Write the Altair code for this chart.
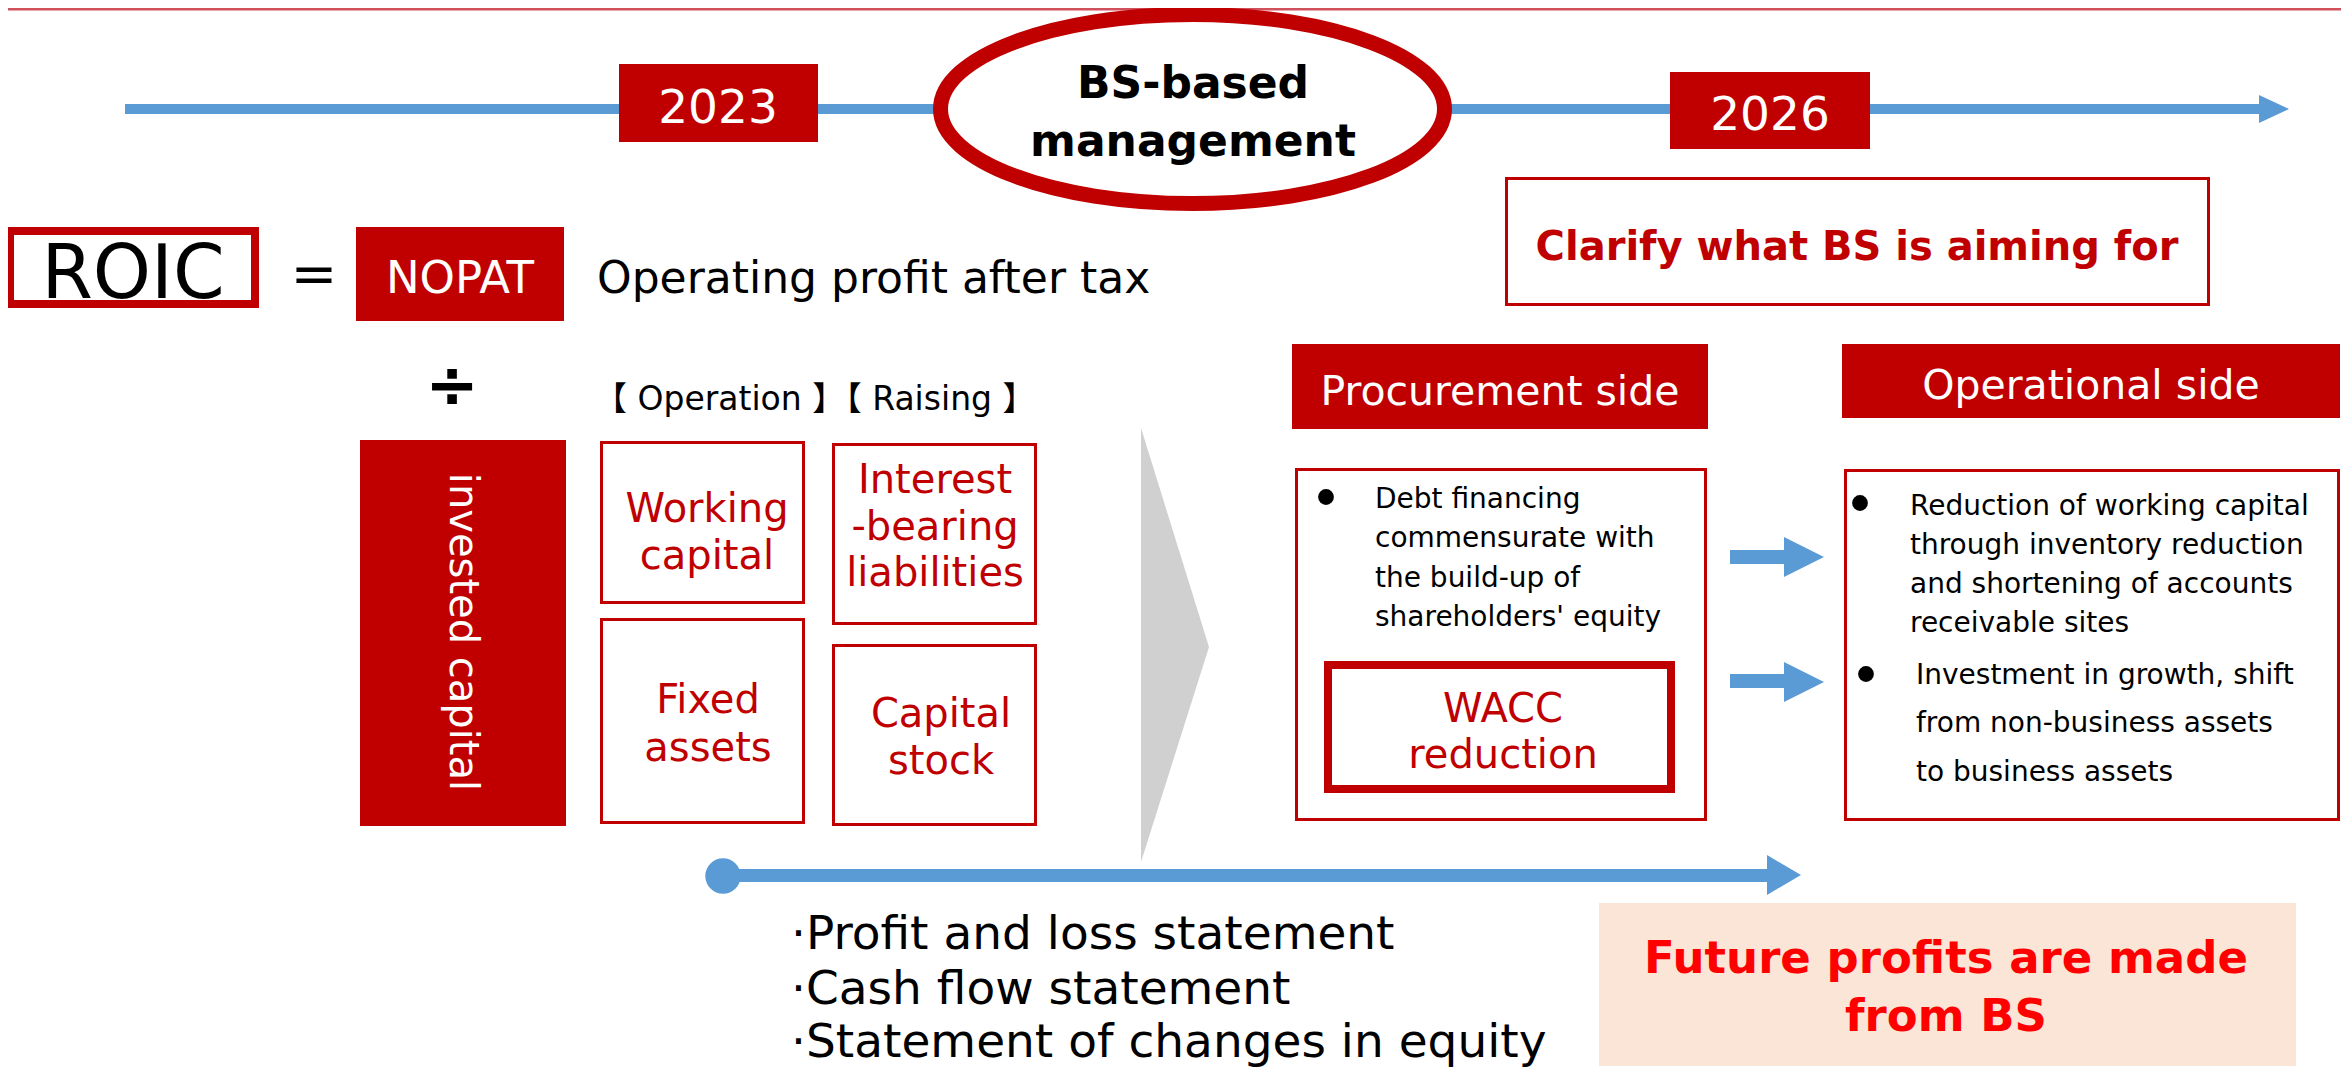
import altair as alt
import pandas as pd

# ---------------- content ----------------
RED = "#c00000"
BLUE = "#5b9bd5"
FONT = "DejaVu Sans, Noto Sans CJK JP"

years = ["2023", "2026"]
title_lines = ["BS-based", "management"]
goal_text = "Clarify what BS is aiming for"
formula = ["ROIC", "=", "NOPAT", "Operating profit after tax", "÷", "invested capital"]
bracket_text = "【 Operation 】【 Raising 】"
operation_items = [["Working", "capital"], ["Fixed", "assets"]]
raising_items = [["Interest", "-bearing", "liabilities"], ["Capital", "stock"]]
side_headers = ["Procurement side", "Operational side"]
procure_lines = ["Debt financing", "commensurate with", "the build-up of", "shareholders' equity"]
wacc_lines = ["WACC", "reduction"]
oper_lines_1 = ["Reduction of working capital", "through inventory reduction",
                "and shortening of accounts", "receivable sites"]
oper_lines_2 = ["Investment in growth, shift", "from non-business assets", "to business assets"]
statements = ["·Profit and loss statement", "·Cash flow statement", "·Statement of changes in equity"]
future_lines = ["Future profits are made", "from BS"]

# ---------------- geometry (page pixels) ----------------
xs = alt.Scale(domain=[8, 2341], nice=False, zero=False)
ys = alt.Scale(domain=[8, 1069], nice=False, zero=False, reverse=True)

rects = pd.DataFrame([
    # x, x2, y, y2, fill, stroke, sw
    (8, 2341, 8, 10.5, "#d0505c", "#d0505c", 0),
    (125, 2262, 104, 114, BLUE, BLUE, 0),
    (619, 818, 64, 142, RED, RED, 0),
    (1670, 1870, 72, 149, RED, RED, 0),
    (1506.5, 2208.5, 178.5, 304.5, "white", RED, 3),
    (10, 255, 231, 304, "white", RED, 8),
    (356, 564, 227, 321, RED, RED, 0),
    (360, 566, 440, 826, RED, RED, 0),
    (601.5, 803.5, 442.5, 602.5, "white", RED, 3),
    (833.5, 1035.5, 444.5, 623.5, "white", RED, 3),
    (601.5, 803.5, 619.5, 822.5, "white", RED, 3),
    (833.5, 1035.5, 645.5, 824.5, "white", RED, 3),
    (1292, 1708, 344, 429, RED, RED, 0),
    (1842, 2340, 344, 418, RED, RED, 0),
    (1296.5, 1705.5, 469.5, 819.5, "white", RED, 3),
    (1845.5, 2338.5, 470.5, 819.5, "white", RED, 3),
    (1328, 1671, 665, 789, "white", RED, 8),
    (1599, 2296, 903, 1066, "#fbe5d6", "#fbe5d6", 0),
    (1730, 1786, 550, 564, BLUE, BLUE, 0),
    (1730, 1786, 674, 688, BLUE, BLUE, 0),
    (724, 1768, 869, 882, BLUE, BLUE, 0),
], columns=["x", "x2", "y", "y2", "fill", "stroke", "sw"])

tri = pd.DataFrame([
    # id, x, y, y2, fill
    ("chev", 1141, 428, 862, "#d0d0d0"), ("chev", 1209, 647, 647, "#d0d0d0"),
    ("head0", 2259, 95, 123, BLUE), ("head0", 2289, 109, 109, BLUE),
    ("head1", 1784, 537, 577, BLUE), ("head1", 1824, 557, 557, BLUE),
    ("head2", 1784, 662, 702, BLUE), ("head2", 1824, 682, 682, BLUE),
    ("head3", 1767, 855, 895, BLUE), ("head3", 1801, 875, 875, BLUE),
], columns=["id", "x", "y", "y2", "fill"])

dots = pd.DataFrame([
    (723, 876, 1257, BLUE),
    (1326, 497, 250, "black"),
    (1860, 503, 250, "black"),
    (1866, 674, 250, "black"),
], columns=["x", "y", "size", "fill"])

ellipse = pd.DataFrame({"x": [1192.5], "y": [109]})
ELLIPSE_PATH = "M-1,0A1,0.375,0,1,0,1,0A1,0.375,0,1,0,-1,0Z"

# text rows: text, x, y, size, color, weight, align
T = []
def add(text, x, y, size, color="black", weight="normal", align="center"):
    T.append((text, x, y, size, color, weight, align))

add(years[0], 718, 123, 47, "white")
add(years[1], 1770, 130, 47, "white")
add(title_lines[0], 1193, 98, 44, weight="bold")
add(title_lines[1], 1193, 156, 44, weight="bold")
add(goal_text, 1857, 260, 40, RED, "bold")
add(formula[0], 133, 298, 74)
add(formula[1], 314, 293, 56)
add(formula[2], 460, 293, 45, "white")
add(formula[3], 597, 293, 44, align="left")
add(formula[4], 452, 407, 64, weight="bold")
add(bracket_text, 594, 410, 33, align="left")
for i, t in enumerate(operation_items[0]):
    add(t, 707, [522, 569][i], 40, RED)
for i, t in enumerate(operation_items[1]):
    add(t, 708, [713, 761][i], 40, RED)
for i, t in enumerate(raising_items[0]):
    add(t, 935, [493, 540, 586][i], 40, RED)
for i, t in enumerate(raising_items[1]):
    add(t, 941, [727, 774][i], 40, RED)
add(side_headers[0], 1500, 405, 41, "white")
add(side_headers[1], 2091, 399, 41, "white")
for i, t in enumerate(procure_lines):
    add(t, 1375, [508, 547, 587, 626][i], 28, align="left")
for i, t in enumerate(wacc_lines):
    add(t, 1503, [722, 768][i], 40, RED)
for i, t in enumerate(oper_lines_1):
    add(t, 1910, [515, 554, 593, 632][i], 28, align="left")
for i, t in enumerate(oper_lines_2):
    add(t, 1916, [684, 732, 781][i], 28, align="left")
for i, t in enumerate(statements):
    add(t, 791, [949, 1004, 1057][i], 47, align="left")
for i, t in enumerate(future_lines):
    add(t, 1946, [973, 1031][i], 45, "#ff0000", "bold")

texts = pd.DataFrame(T, columns=["text", "x", "y", "size", "color", "weight", "align"])
rot = pd.DataFrame([(formula[5], 462, 632, 40, "white")], columns=["text", "x", "y", "size", "color"])

X = lambda f="x": alt.X(f"{f}:Q", scale=xs, axis=None)
Y = lambda f="y": alt.Y(f"{f}:Q", scale=ys, axis=None)

rect_layer = alt.Chart(rects).mark_rect().encode(
    x=X(), x2="x2:Q", y=Y(), y2="y2:Q",
    fill=alt.Fill("fill:N", scale=None),
    stroke=alt.Stroke("stroke:N", scale=None),
    strokeWidth=alt.StrokeWidth("sw:Q", scale=None),
)

tri_layer = alt.Chart(tri).mark_area(opacity=1).encode(
    x=X(), y=Y(), y2="y2:Q",
    detail="id:N",
    fill=alt.Fill("fill:N", scale=None),
)

dot_layer = alt.Chart(dots).mark_circle(opacity=1).encode(
    x=X(), y=Y(),
    size=alt.Size("size:Q", scale=None),
    fill=alt.Fill("fill:N", scale=None),
)

ell_layer = alt.Chart(ellipse).mark_point(
    shape=ELLIPSE_PATH, size=504 * 504, filled=True, fill="white",
    stroke=RED, strokeWidth=15, opacity=1, fillOpacity=1, strokeOpacity=1,
).encode(x=X(), y=Y())

layers = [rect_layer, tri_layer, dot_layer, ell_layer]
for (w, a), sub in texts.groupby(["weight", "align"]):
    layers.append(
        alt.Chart(sub).mark_text(font=FONT, fontWeight=w, align=a, baseline="alphabetic").encode(
            x=X(), y=Y(), text="text:N",
            size=alt.Size("size:Q", scale=None),
            color=alt.Color("color:N", scale=None),
        )
    )
layers.append(
    alt.Chart(rot).mark_text(font=FONT, align="center", baseline="middle", angle=90).encode(
        x=X(), y=Y(), text="text:N",
        size=alt.Size("size:Q", scale=None),
        color=alt.Color("color:N", scale=None),
    )
)

chart = alt.layer(*layers).properties(
    width=2333, height=1061, padding=0, autosize="none", background="white"
).configure_view(stroke=None)

chart.save("out.html", embed_options={"renderer": "svg", "actions": False})
